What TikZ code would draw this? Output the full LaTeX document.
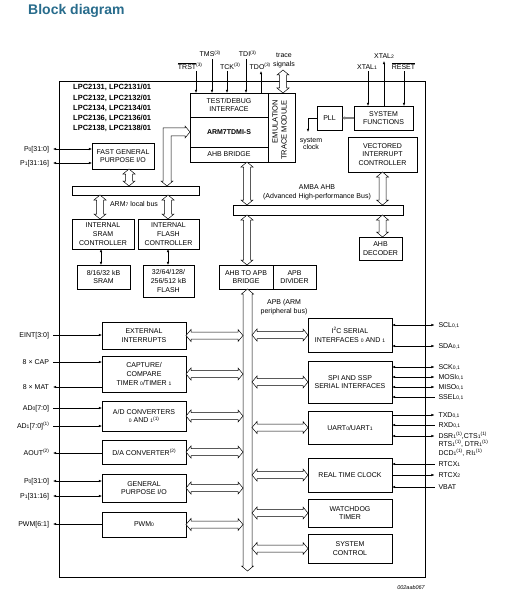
\documentclass[tikz,border=0pt]{standalone}
\usepackage{fontspec}
\setmainfont{Liberation Sans}
\usetikzlibrary{arrows.meta,calc}
\definecolor{titleblue}{RGB}{40,108,140}
\newcommand\sx[1]{\raisebox{0.38em}{\fontsize{4.8}{5}\selectfont #1}}
\newcommand\sd[1]{{\fontsize{5}{5}\selectfont #1}}
\newcommand\ovl[1]{$\overline{\mbox{#1}}$}
\newcommand\bx[7][]{\node[box,minimum width={(#5-#3)*1pt},minimum height={(#6-#4)*1pt},#1] (#2) at ({(#3+#5)/2},{(#4+#6)/2}) {#7};}
\newcommand\hollowV[3][3.5]{\path[hollow] let \p1=#2, \p2=#3 in
 (\x1,\y1) -- ({\x1+6pt},{\y1-5pt}) -- ({\x1+#1pt},{\y1-5pt}) -- ({\x1+#1pt},{\y2+5pt}) -- ({\x1+6pt},{\y2+5pt}) -- (\x1,\y2)
 -- ({\x1-6pt},{\y2+5pt}) -- ({\x1-#1pt},{\y2+5pt}) -- ({\x1-#1pt},{\y1-5pt}) -- ({\x1-6pt},{\y1-5pt}) -- cycle;}
\newcommand\hollowH[3][3.5]{\path[hollow] let \p1=#2, \p2=#3 in
 (\x1,\y1) -- ({\x1+5pt},{\y1+6pt}) -- ({\x1+5pt},{\y1+#1pt}) -- ({\x2-5pt},{\y1+#1pt}) -- ({\x2-5pt},{\y1+6pt}) -- (\x2,\y1)
 -- ({\x2-5pt},{\y1-6pt}) -- ({\x2-5pt},{\y1-#1pt}) -- ({\x1+5pt},{\y1-#1pt}) -- ({\x1+5pt},{\y1-6pt}) -- cycle;}
% left signal: name, y, text, box, arrow style
\newcommand\lsig[5]{\node[lbl,anchor=base east] (#1) at (49,{#2+2.5}) {#3};
 \coordinate (#1A) at ($(#1.base east)+(4,-2.5)$);
 \draw[#5] (#1A) -- (#1A -| #4.west);}
% right signal: name, y, text, box, arrow style
\newcommand\rsig[5]{\node[lbl,anchor=base west] (#1) at (438.5,{#2+2.5}) {#3};
 \coordinate (#1A) at ($(#1.base west)+(-4,-2.5)$);
 \draw[#5] (#1A) -- (#1A -| #4.east);}
\begin{document}
\begin{tikzpicture}[x=1pt,y=-1pt,
 box/.style={draw,line width=0.6pt,inner sep=0pt,outer sep=0pt,align=center,font=\fontsize{7}{8.7}\selectfont},
 lbl/.style={inner sep=0pt,outer sep=0pt,font=\fontsize{7}{8.5}\selectfont,align=center},
 hollow/.style={draw,fill=white,line width=0.5pt,line join=miter},
 sig/.style={line width=0.5pt,-{Latex[length=3.2pt,width=2.6pt]}},
 sigr/.style={line width=0.5pt,{Latex[length=3.2pt,width=2.6pt]}-},
 sigb/.style={line width=0.5pt,{Latex[length=3.2pt,width=2.6pt]}-{Latex[length=3.2pt,width=2.6pt]}}]
\fill[white] (0,0) rectangle (506,596);
\useasboundingbox (0,0) rectangle (506,596);
\node[anchor=base west,inner sep=0pt,font=\fontsize{14}{14}\selectfont\bfseries,text=titleblue] (title) at (28,15) {Block diagram};
% frame
\node[draw,line width=0.6pt,inner sep=0pt,minimum width=366pt,minimum height=496pt] (frame) at (242,329) {};
\node[anchor=north west,inner sep=0pt,align=left,font=\fontsize{7.5}{10.2}\selectfont\bfseries] (lpc) at (73,84.3)
 {LPC2131, LPC2131/01\\LPC2132, LPC2132/01\\LPC2134, LPC2134/01\\LPC2136, LPC2136/01\\LPC2138, LPC2138/01};
% core blocks
\bx{testdebug}{190}{93}{268}{117}{TEST/DEBUG\\INTERFACE}
\bx[font=\fontsize{7}{8.7}\selectfont\bfseries]{arm}{190}{117}{268}{147}{ARM7TDMI-S}
\bx{ahbb}{190}{147}{268}{162}{AHB BRIDGE}
\bx{etm}{268}{93}{295}{162}{}
\node[lbl,rotate=90,anchor=east,align=right,font=\fontsize{7.5}{9}\selectfont] (etmtext) at (279.5,100) {EMULATION\\TRACE MODULE};
\bx{pll}{317}{106}{342}{130}{PLL}
\bx{sysfun}{354}{106}{413}{130}{SYSTEM\\FUNCTIONS}
\bx{vic}{348}{137}{417}{172}{VECTORED\\INTERRUPT\\CONTROLLER}
\bx{ahbdec}{359}{237}{402}{260}{AHB\\DECODER}
\bx{fgpio}{92}{143}{154}{169}{FAST GENERAL\\PURPOSE I/O}
\bx{sramc}{72}{219}{134}{249}{INTERNAL\\SRAM\\CONTROLLER}
\bx{flashc}{138}{219}{199}{249}{INTERNAL\\FLASH\\CONTROLLER}
\bx{sram}{77}{265}{130}{289}{8/16/32 kB\\SRAM}
\bx{flash}{143}{265}{194}{297}{32/64/128/\\256/512 kB\\FLASH}
\bx{ahbapb}{219}{265}{273}{289}{AHB TO APB\\BRIDGE}
\bx{apbdiv}{273}{265}{316}{289}{APB\\DIVIDER}
\bx{localbus}{72}{186}{199}{195}{}
\bx{amba}{233}{205}{403}{215}{}
% left peripherals
\bx{extint}{102}{322}{186}{349}{EXTERNAL\\INTERRUPTS}
\bx{capture}{102}{356}{186}{392}{CAPTURE/\\COMPARE\\TIMER \sd{0}/TIMER \sd{1}}
\bx{adc}{102}{401}{186}{431}{A/D CONVERTERS\\\sd{0} AND \sd{1}\sx{(1)}}
\bx{dac}{102}{440}{186}{464}{D/A CONVERTER\sx{(2)}}
\bx{gpio}{102}{474}{186}{502}{GENERAL\\PURPOSE I/O}
\bx{pwm}{102}{512}{186}{537}{PWM\sd{0}}
% right peripherals
\bx{i2c}{308}{318}{392}{352}{I\sx{2}C SERIAL\\INTERFACES \sd{0} AND \sd{1}}
\bx{spi}{308}{361}{392}{403}{SPI AND SSP\\SERIAL INTERFACES}
\bx{uart}{308}{411}{392}{444}{UART\sd{0}/UART\sd{1}}
\bx{rtc}{308}{458}{392}{492}{REAL TIME CLOCK}
\bx{wdt}{308}{499}{392}{527}{WATCHDOG\\TIMER}
\bx{sysctl}{308}{534}{392}{563}{SYSTEM\\CONTROL}
% bus labels
\node[lbl] (lbuslbl) at (134,204) {ARM\sd{7} local bus};
\node[lbl,font=\fontsize{7}{9}\selectfont] (ambalbl) at (317,192.5) {AMBA AHB\\(Advanced High-performance Bus)};
\node[lbl,font=\fontsize{7}{9}\selectfont] (apblbl) at (284,307.5) {APB (ARM\\peripheral bus)};
% helper coordinates
\coordinate (lb1) at (129,0);
\coordinate (lb2) at (100,0);
\coordinate (lb3) at (168,0);
\coordinate (ab1) at (247,0);
\coordinate (ab2) at (382.5,0);
\coordinate (apbx) at (247.5,0);
\coordinate (apbend) at (247.5,571);
\coordinate (apbL) at (243,0);
\coordinate (apbR) at (252,0);
\coordinate (bentx) at (167,0);
\coordinate (traceA) at (283,70);
\coordinate (sm1) at (101,0);
\coordinate (sm2) at (168,0);
% top JTAG signals
\node[lbl,anchor=base] (trst) at (190,69.5) {\ovl{TRST}\sx{(3)}};
\node[lbl,anchor=base] (tms) at (210,57) {TMS\sx{(3)}};
\node[lbl,anchor=base] (tck) at (230,69.5) {TCK\sx{(3)}};
\node[lbl,anchor=base] (tdi) at (247.5,57) {TDI\sx{(3)}};
\node[lbl,anchor=base] (tdo) at (260,69.5) {TDO\sx{(3)}};
\node[lbl,font=\fontsize{7}{9}\selectfont] (trace) at (284,60.3) {trace\\signals};
\coordinate (trstA) at (196,71);
\coordinate (tmsA) at (212,59);
\coordinate (tckA) at (227,71);
\coordinate (tdiA) at (246,59);
\coordinate (tdoA) at (261,71);
\draw[sig] (trstA) -- (trstA |- testdebug.north);
\draw[sig] (tmsA) -- (tmsA |- testdebug.north);
\draw[sig] (tckA) -- (tckA |- testdebug.north);
\draw[sig] (tdiA) -- (tdiA |- testdebug.north);
\draw[sig] (tdoA |- testdebug.north) -- (tdoA);
% system functions signals
\node[lbl,anchor=base] (xtal1) at (367,69.5) {XTAL\sd{1}};
\node[lbl,anchor=base] (xtal2) at (384,59) {XTAL\sd{2}};
\node[lbl,anchor=base] (reset) at (403.5,69.5) {\ovl{RESET}};
\coordinate (x1A) at (368,71.5);
\coordinate (x2A) at (384,61);
\coordinate (rsA) at (404,71.5);
\draw[sig] (x1A) -- (x1A |- sysfun.north);
\draw[sig] (x2A |- sysfun.north) -- (x2A);
\draw[sig] (rsA) -- (rsA |- sysfun.north);
\draw[line width=1.3pt,gray,-{Latex[length=3pt,width=3.6pt]}] (sysfun.west) -- (pll.east);
\node[lbl,font=\fontsize{7}{7.5}\selectfont] (sclk) at (311,144) {system\\clock};
\coordinate (scA) at (308,132);
\draw[sig] (pll.west) -| (scA);
% memory small arrows
\draw[sigb] (sm1 |- sramc.south) -- (sm1 |- sram.north);
\draw[sigb] (sm2 |- flashc.south) -- (sm2 |- flash.north);
% fast gpio signals
\lsig{fp0}{149}{P\sd{0}[31:0]}{fgpio}{sigb}
\lsig{fp1}{163}{P\sd{1}[31:16]}{fgpio}{sigb}
% left peripheral signals
\lsig{eint}{335}{EINT[3:0]}{extint}{sig}
\lsig{cap}{362}{8 × CAP}{capture}{sig}
\lsig{mat}{387}{8 × MAT}{capture}{sigr}
\lsig{ad0}{408}{AD\sd{0}[7:0]}{adc}{sig}
\lsig{ad1}{426}{AD\sd{1}[7:0]\sx{(1)}}{adc}{sig}
\lsig{aout}{453}{AOUT\sx{(2)}}{dac}{sigr}
\lsig{p0}{481}{P\sd{0}[31:0]}{gpio}{sigb}
\lsig{p1}{496}{P\sd{1}[31:16]}{gpio}{sigb}
\lsig{pwmo}{524}{PWM[6:1]}{pwm}{sigr}
% right peripheral signals
\rsig{scl}{325}{SCL\sd{0,1}}{i2c}{sigb}
\rsig{sda}{346}{SDA\sd{0,1}}{i2c}{sigb}
\rsig{sck}{367}{SCK\sd{0,1}}{spi}{sigb}
\rsig{mosi}{377}{MOSI\sd{0,1}}{spi}{sigb}
\rsig{miso}{387}{MISO\sd{0,1}}{spi}{sigb}
\rsig{ssel}{397}{SSEL\sd{0,1}}{spi}{sig}
\rsig{txd}{415}{TXD\sd{0,1}}{uart}{sigr}
\rsig{rxd}{425}{RXD\sd{0,1}}{uart}{sig}
\rsig{dsr}{436}{DSR\sd{1}\sx{(1)},CTS\sd{1}\sx{(1)}}{uart}{sigb}
\node[lbl,anchor=base west] (rts) at (438.5,446) {RTS\sd{1}\sx{(1)}, DTR\sd{1}\sx{(1)}};
\node[lbl,anchor=base west] (dcd) at (438.5,455) {DCD\sd{1}\sx{(1)}, RI\sd{1}\sx{(1)}};
\rsig{rtcx1}{464}{RTCX\sd{1}}{rtc}{sig}
\rsig{rtcx2}{475}{RTCX\sd{2}}{rtc}{sigr}
\rsig{vbat}{487}{VBAT}{rtc}{sig}
% hollow bus arrows
\hollowV{(traceA)}{(traceA |- etm.north)}
\hollowV{(lb1 |- fgpio.south)}{(lb1 |- localbus.north)}
\hollowV{(lb2 |- localbus.south)}{(lb2 |- sramc.north)}
\hollowV{(lb3 |- localbus.south)}{(lb3 |- flashc.north)}
\hollowV{(ab1 |- ahbb.south)}{(ab1 |- amba.north)}
\hollowV{(ab1 |- amba.south)}{(ab1 |- ahbapb.north)}
\hollowV{(ab2 |- vic.south)}{(ab2 |- amba.north)}
\hollowV{(ab2 |- amba.south)}{(ab2 |- ahbdec.north)}
\hollowV[4.5]{(apbx |- ahbapb.south)}{(apbend)}
\path[hollow] let \p1=(bentx |- localbus.north), \p2=(arm.west) in
 (\x1,\y1) -- ({\x1+6pt},{\y1+5pt}) -- ({\x1+4pt},{\y1+5pt}) -- ({\x1+4pt},{\y2-4pt}) -- ({\x2-5pt},{\y2-4pt}) -- ({\x2-5pt},{\y2-6pt}) -- (\x2,\y2)
 -- ({\x2-5pt},{\y2+6pt}) -- ({\x2-5pt},{\y2+4pt}) -- ({\x1-4pt},{\y2+4pt}) -- ({\x1-4pt},{\y1+5pt}) -- ({\x1-6pt},{\y1+5pt}) -- cycle;
\hollowH{(extint.east)}{(extint.east -| apbL)}
\hollowH{(capture.east)}{(capture.east -| apbL)}
\hollowH{(adc.east)}{(adc.east -| apbL)}
\hollowH{(dac.east)}{(dac.east -| apbL)}
\hollowH{(gpio.east)}{(gpio.east -| apbL)}
\hollowH{(pwm.east)}{(pwm.east -| apbL)}
\hollowH{(apbR |- i2c.west)}{(i2c.west)}
\hollowH{(apbR |- spi.west)}{(spi.west)}
\hollowH{(apbR |- uart.west)}{(uart.west)}
\hollowH{(apbR |- rtc.west)}{(rtc.west)}
\hollowH{(apbR |- wdt.west)}{(wdt.west)}
\hollowH{(apbR |- sysctl.west)}{(sysctl.west)}
\node[anchor=base east,inner sep=0pt,font=\fontsize{5.5}{6}\selectfont\itshape] (fig) at (425,589) {002aab067};
\end{tikzpicture}
\end{document}
